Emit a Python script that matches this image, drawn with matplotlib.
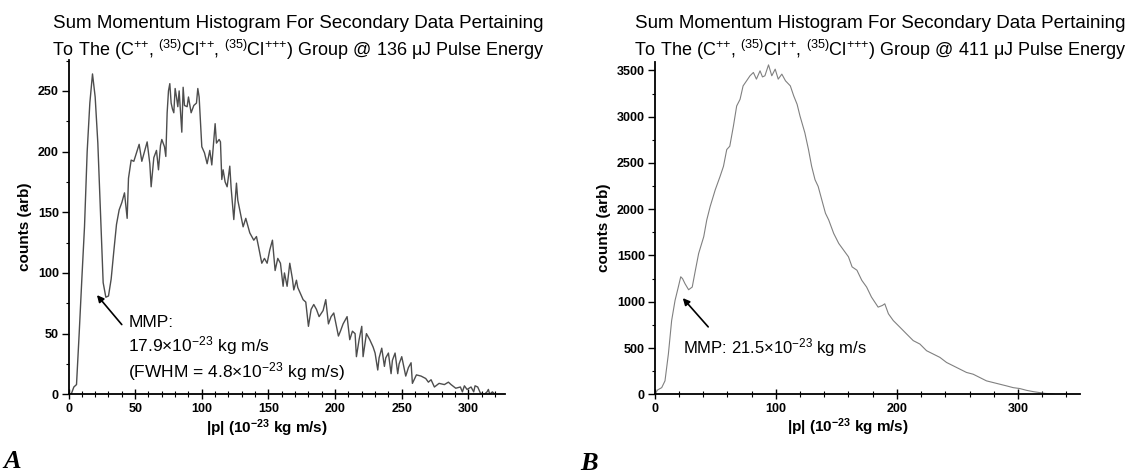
import numpy as np
import matplotlib
matplotlib.use("Agg")
import matplotlib.pyplot as plt
from matplotlib.ticker import MultipleLocator, AutoMinorLocator

plt.rcParams['font.family'] = ['Liberation Sans', 'DejaVu Sans']
plt.rcParams['mathtext.default'] = 'regular'

# panel A: 136 uJ
p_a = [0, 2, 4, 6, 8, 10, 12, 14, 16, 18, 20, 22, 24, 26, 28, 30, 32, 34, 36, 38,
       40, 42, 44, 45, 47, 49, 51, 53, 55, 57, 59, 61, 62, 64, 66, 67.5, 69, 70, 72, 73,
       74, 75, 76, 77, 78, 79, 80, 81, 82, 83, 85, 86, 87, 89, 90, 92, 94, 96, 97, 98,
       100, 102, 104, 106, 107.5, 110, 111, 113, 114, 115, 116, 117.5, 119, 121, 122, 124, 126, 127, 129, 131,
       133, 134, 136, 139, 141, 142.5, 145, 147, 149, 151, 153, 155, 157, 159, 161, 162, 164, 166, 168, 169,
       171, 172, 174, 176, 178, 180, 182, 184, 186, 188, 191, 193, 195, 197, 199, 201, 202.5, 204, 206, 209,
       211, 213, 215, 216, 218, 220, 221, 223.5, 226, 228.5, 230, 232, 233, 235, 237, 238, 240, 242, 243, 245,
       247, 248, 250, 253, 255, 257, 258, 261, 264.5, 268, 270, 272, 274.5, 278, 282, 285, 287, 290.5, 294, 295.5,
       297, 299, 302, 304, 305, 307, 309, 312, 314, 315, 316, 318, 320]
counts_a = [0, 0, 6, 8, 50, 95, 138, 200, 240, 264, 245, 207, 150, 92, 80, 81, 95, 118, 140, 152,
            158, 166, 145, 178, 193, 192, 199, 206, 192, 200, 208, 190, 171, 195, 201, 185, 205, 210, 204, 196,
            232, 250, 256, 240, 235, 232, 252, 245, 237, 250, 216, 253, 238, 237, 245, 232, 238, 240, 252, 245,
            204, 199, 190, 201, 189, 223, 207, 210, 208, 177, 185, 175, 171, 188, 170, 144, 174, 160, 149, 138,
            145, 141, 133, 127, 130, 122, 108, 112, 108, 119, 127, 102, 112, 108, 89, 100, 89, 108, 95, 86,
            94, 88, 83, 78, 76, 56, 70, 74, 70, 64, 69, 78, 58, 64, 67, 56, 48, 52, 58, 64,
            45, 52, 50, 31, 45, 56, 31, 50, 45, 39, 34, 20, 30, 38, 23, 30, 34, 17, 28, 34,
            17, 25, 31, 15, 22, 26, 9, 16, 15, 13, 10, 12, 6, 9, 8, 10, 8, 5, 6, 2,
            7, 4, 6, 2, 7, 6, 1, 0, 2, 4, 0, 2, 0]

# panel B: 411 uJ
p_b = [0, 2.4, 5.8, 8.5, 11.3, 14, 16.8, 19.5, 21.5, 23, 25, 28, 31, 33.6, 36.3, 40.5, 43, 45.8, 50, 54,
       56.8, 59.5, 62, 65, 67.7, 70.5, 73, 76, 78.7, 81.5, 84, 87, 89, 91, 94, 96.7, 99.5, 102, 105, 108,
       112, 114.8, 117.6, 120, 124, 127, 129.6, 132.4, 135, 138, 141, 143.7, 147.8, 152, 156, 160, 163, 167, 171, 175,
       179, 184.5, 188, 190, 193, 197, 202.5, 208, 213.5, 219, 224.5, 230, 235.5, 241, 246.5, 252, 257.5, 263, 268.5, 274,
       279.5, 285, 290.5, 296, 301.5, 307, 312.5, 318, 322, 326, 330]
counts_b = [0, 47, 72, 145, 435, 797, 1014, 1159, 1270, 1250, 1196, 1130, 1159, 1340, 1522, 1703, 1884, 2029, 2210, 2355,
            2464, 2645, 2681, 2898, 3116, 3188, 3333, 3390, 3442, 3478, 3406, 3496, 3430, 3442, 3560, 3442, 3514, 3406, 3460, 3388,
            3333, 3225, 3134, 3007, 2826, 2645, 2464, 2319, 2246, 2101, 1957, 1884, 1739, 1630, 1558, 1486, 1377, 1341, 1232, 1159,
            1051, 942, 960, 978, 870, 797, 725, 652, 580, 543, 471, 435, 399, 344, 308, 272, 236, 217, 181, 145,
            127, 109, 91, 72, 62, 43, 29, 18, 10, 6, 0]

fig = plt.figure(figsize=(11.38, 4.73), dpi=100)
ax1 = fig.add_axes([0.0602, 0.1664, 0.3836, 0.7068])
ax2 = fig.add_axes([0.5753, 0.1664, 0.3733, 0.7025])

ax1.plot(p_a, counts_a, color='#4d4d4d', lw=1.0)
ax2.plot(p_b, counts_b, color='#808080', lw=0.8)

ax1.set_xlim(0, 327.5)
ax1.set_ylim(0, 275.5)
ax2.set_xlim(0, 350.8)
ax2.set_ylim(0, 3591)

ax1.xaxis.set_major_locator(MultipleLocator(50))
ax1.yaxis.set_major_locator(MultipleLocator(50))
ax2.xaxis.set_major_locator(MultipleLocator(100))
ax2.yaxis.set_major_locator(MultipleLocator(500))
ax1.xaxis.set_minor_locator(AutoMinorLocator(5))
ax1.yaxis.set_minor_locator(AutoMinorLocator(2))
ax2.xaxis.set_minor_locator(AutoMinorLocator(5))
ax2.yaxis.set_minor_locator(AutoMinorLocator(2))

for ax in (ax1, ax2):
    for s in ('top', 'right'):
        ax.spines[s].set_visible(False)
    ax.spines['left'].set_linewidth(1.3)
    ax.spines['bottom'].set_linewidth(1.3)
    ax.tick_params(axis='y', which='major', direction='out', length=5, width=1, pad=2, labelsize=9)
    ax.tick_params(axis='y', which='minor', direction='out', length=2.5, width=0.8)
    ax.tick_params(axis='x', which='major', direction='inout', length=7, width=1, pad=3, labelsize=9)
    ax.tick_params(axis='x', which='minor', direction='inout', length=4, width=0.8)
    for lab in ax.get_xticklabels() + ax.get_yticklabels():
        lab.set_fontweight('bold')
    ax.set_ylabel('counts (arb)', fontsize=11, fontweight='bold', labelpad=4)
    ax.text(0.455, -0.068, r'|p| (10$^{-23}$ kg m/s)', transform=ax.transAxes,
            ha='center', va='top', fontsize=11, fontweight='bold')

# titles
line1 = 'Sum Momentum Histogram For Secondary Data Pertaining'
line2 = r'To The (C$^{{+}{+}}$, $^{(35)}$Cl$^{{+}{+}}$, $^{(35)}$Cl$^{{+}{+}{+}}$) Group @ %s μJ Pulse Energy'
for cx, energy in ((298, '136'), (880, '411')):
    fig.text(cx / 1138, 1 - 24 / 473, line1, ha='center', va='center', fontsize=13.5)
    fig.text(cx / 1138, 1 - 50 / 473, line2 % energy, ha='center', va='center', fontsize=13)

# annotations
ax1.annotate('', xy=(20, 83.5), xytext=(41.3, 55.7),
             arrowprops=dict(arrowstyle='-|>', color='black', lw=1.2, mutation_scale=10))
ax1.text(44.8, 37.3, 'MMP:\n' + r'17.9×10$^{-23}$ kg m/s' + '\n' + r'(FWHM = 4.8×10$^{-23}$ kg m/s)',
         ha='left', va='center', fontsize=12.5, linespacing=1.2)
ax2.annotate('', xy=(21.7, 1062), xytext=(45.7, 706),
             arrowprops=dict(arrowstyle='-|>', color='black', lw=1.2, mutation_scale=10))
ax2.text(23.5, 500, r'MMP: 21.5×10$^{-23}$ kg m/s', ha='left', va='center', fontsize=12)

fig.text(3 / 1138, 1 - 461 / 473, 'A', fontsize=19, fontweight='bold', fontstyle='italic',
         family='Liberation Serif', ha='left', va='center')
fig.text(580 / 1138, 1 - 463 / 473, 'B', fontsize=19, fontweight='bold', fontstyle='italic',
         family='Liberation Serif', ha='left', va='center')

fig.savefig('out.png', dpi=100)
